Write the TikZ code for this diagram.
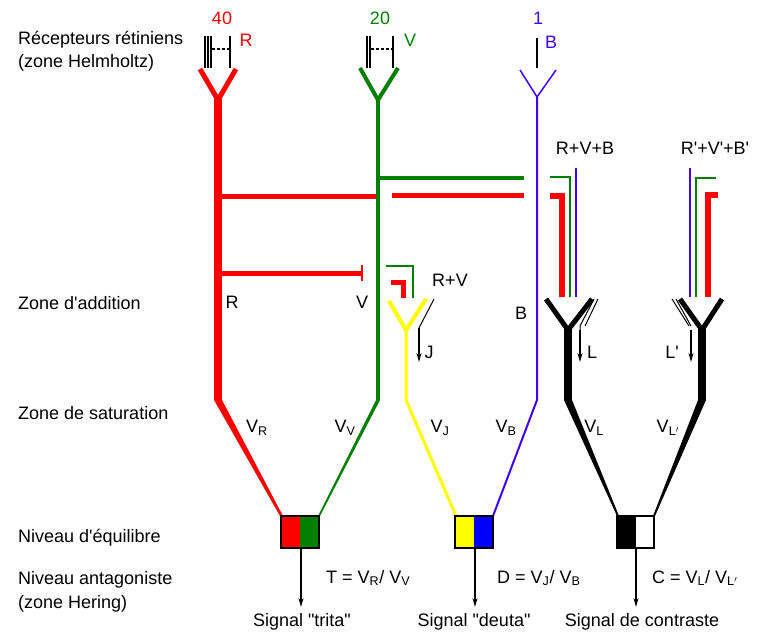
\documentclass[tikz,border=0pt]{standalone}
\usepackage{fontspec}
\setmainfont{Liberation Sans}
\usetikzlibrary{arrows.meta}
\definecolor{vert}{RGB}{0,128,0}
\definecolor{bleu}{RGB}{64,0,255}
\definecolor{jaune}{RGB}{255,255,0}
\newcommand{\ap}{\textquotesingle}
\newcommand{\qq}{\textquotedbl}
\tikzset{
  lbl/.style={font=\fontsize{18}{20}\selectfont, inner sep=0pt},
  lft/.style={lbl, anchor=west},
  rec/.style={black, line width=1.3},
  sig/.style={black, line width=1.3, -{Stealth[length=9pt,width=5pt]}},
}
\begin{document}
\begin{tikzpicture}[x=1pt,y=-1pt]
\useasboundingbox (0,0) rectangle (767,643);
% left labels
\node[lft] (rec1) at (18,40) {Récepteurs rétiniens};
\node[lft] (rec2) at (18,63) {(zone Helmholtz)};
\node[lft] (add) at (18,303) {Zone d\ap addition};
\node[lft] (sat) at (18,413) {Zone de saturation};
\node[lft] (equ) at (18,538) {Niveau d\ap équilibre};
\node[lft] (ant1) at (18,580) {Niveau antagoniste};
\node[lft] (ant2) at (18,604) {(zone Hering)};
% receptors
\node[lbl, red] (n40) at (222,18) {40};
\node[lbl, red] (nR) at (246,40) {R};
\node[lbl, vert] (n20) at (380,18) {20};
\node[lbl, vert] (nV) at (410,40) {V};
\node[lbl, bleu] (n1) at (538,18) {1};
\node[lbl, bleu] (nB) at (551,42) {B};
\foreach \x in {205,208,211,230} \draw[rec] (\x,36) -- (\x,68);
\draw[rec, dashed, dash pattern=on 3pt off 2pt] (212,49) -- (230,49);
\foreach \x in {367,370,393} \draw[rec] (\x,36) -- (\x,68);
\draw[rec, dashed, dash pattern=on 3pt off 2pt] (371,49) -- (393,49);
\draw[rec] (537,38) -- (537,68);
% red channel
\draw[red, line width=5] (200,69) -- (218,100) -- (236,69);
\fill[red] (214,98) rectangle (222,400);
\fill[red] (214,400) -- (222,400) -- (283,516) -- (280,516) -- cycle;
\draw[red, line width=5] (218,196) -- (376,196);
\draw[red, line width=5] (218,273) -- (362,273);
\draw[red, line width=1.5] (362,265) -- (362,281);
% green channel
\draw[vert, line width=4] (360,68) -- (378,100) -- (398,68);
\draw[vert, line width=4] (378,98) -- (378,400);
\fill[vert] (376,400) -- (380,400) -- (320,516) -- (318,516) -- cycle;
\draw[vert, line width=4] (378,178) -- (524,178);
\draw[red, line width=5] (392,195) -- (524,195);
% blue channel
\draw[bleu, line width=1.5] (520,70) -- (537,97) -- (556,70);
\draw[bleu, line width=2] (537,97) -- (537,400) -- (493,516);
% R+V+B bundle
\node[lbl] (rvb) at (585,148) {R+V+B};
\draw[vert, line width=2.5] (550,177) -- (570,177) -- (570,297);
\draw[bleu, line width=1.5] (576,168) -- (576,297);
\draw[red, line width=6] (550,196) -- (562,196) -- (562,297);
% R'+V'+B' bundle
\node[lbl] (rvbp) at (715,148) {R\ap+V\ap+B\ap};
\draw[bleu, line width=1.5] (690,168) -- (690,297);
\draw[vert, line width=2.5] (716,178) -- (696,178) -- (696,297);
\draw[red, line width=6] (718,195) -- (708,195) -- (708,297);
% R+V to yellow
\node[lbl] (rv) at (450,280) {R+V};
\draw[vert, line width=2.5] (386,266) -- (413,266) -- (413,298);
\draw[red, line width=5] (391,282) -- (403,282) -- (403,298);
\draw[jaune, line width=4] (389,301) -- (406,330) -- (426,299);
\draw[jaune, line width=3] (406,330) -- (406,400) -- (456,516);
\draw[black, line width=1] (434,299) -- (419,328);
\coordinate (jtop) at (419,328);
\draw[sig] (jtop) -- (419,362);
\node[lbl] (nJ) at (429,352) {J};
% black L
\draw[black, line width=5] (546,299) -- (568,330) -- (592,299);
\fill[black] (564,328) rectangle (572,400);
\fill[black] (564,400) -- (572,400) -- (619,516) -- (617,516) -- cycle;
\draw[black, line width=1] (598,299) -- (585,326) (594,299) -- (580,326) -- (580,330);
\coordinate (ltop) at (580,330);
\draw[sig] (ltop) -- (580,362);
\node[lbl] (nL) at (592,352) {L};
% black L'
\draw[black, line width=5] (680,299) -- (702,330) -- (722,299);
\fill[black] (698,328) rectangle (706,400);
\fill[black] (698,400) -- (706,400) -- (655,516) -- (653,516) -- cycle;
\draw[black, line width=1] (672,299) -- (689,326) (676,299) -- (691,326);
\coordinate (lptop) at (691,330);
\draw[sig] (lptop) -- (691,362);
\node[lbl] (nLp) at (672,352) {L\ap};
% channel labels
\node[lbl] at (232,302) {R};
\node[lbl] at (362,302) {V};
\node[lbl] at (521,313) {B};
\node[lbl] at (257,428) {V$_{\mathrm{R}}$};
\node[lbl] at (345,428) {V$_{\mathrm{V}}$};
\node[lbl] at (440,428) {V$_{\mathrm{J}}$};
\node[lbl] at (506,428) {V$_{\mathrm{B}}$};
\node[lbl] at (594,428) {V$_{\mathrm{L}}$};
\node[lbl] at (668,428) {V$_{\mathrm{L'}}$};
% boxes
\fill[red] (281,516) rectangle (300,548);
\fill[vert] (300,516) rectangle (319,548);
\draw[line width=1.2] (281,516) rectangle (319,548);
\coordinate (boxT) at (301,548);
\fill[jaune] (455,516) rectangle (474,548);
\fill[blue] (474,516) rectangle (493,548);
\draw[line width=1.2] (455,516) rectangle (493,548);
\coordinate (boxD) at (475,548);
\fill[black] (617,516) rectangle (636,548);
\draw[line width=1.2] (617,516) rectangle (654,548);
\coordinate (boxC) at (636,548);
% outputs
\node[lbl] (sT) at (302,622) {Signal \qq trita\qq};
\node[lbl] (sD) at (474,622) {Signal \qq deuta\qq};
\node[lbl] (sC) at (642,622) {Signal de contraste};
\draw[sig] (boxT) -- (301,607);
\draw[sig] (boxD) -- (475,607);
\draw[sig] (boxC) -- (636,607);
\node[lft] (eqT) at (326,578) {T = V$_{\mathrm{R}}$/ V$_{\mathrm{V}}$};
\node[lft] (eqD) at (497,578) {D = V$_{\mathrm{J}}$/ V$_{\mathrm{B}}$};
\node[lft] (eqC) at (652,578) {C = V$_{\mathrm{L}}$/ V$_{\mathrm{L'}}$};
\end{tikzpicture}
\end{document}
